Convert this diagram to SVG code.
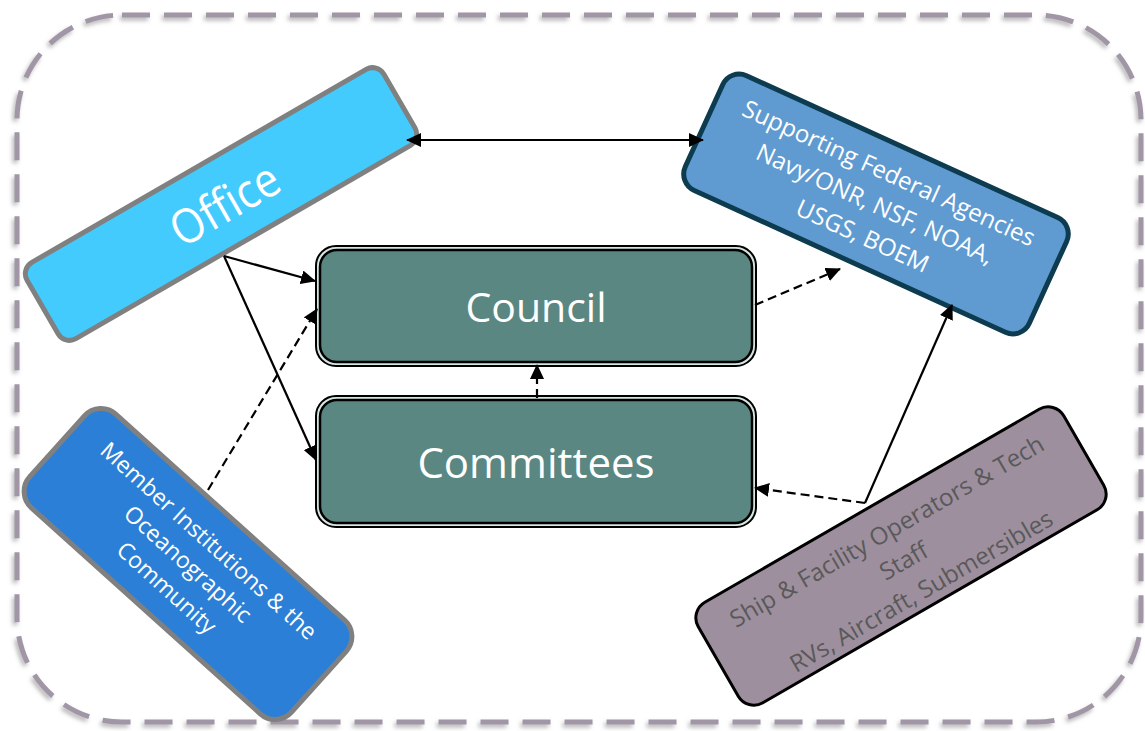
<svg xmlns="http://www.w3.org/2000/svg" width="1145" height="731" viewBox="0 0 1145 731">
<style>
.t{font-family:"Open Sans","Noto Sans","DejaVu Sans",sans-serif;text-anchor:middle}
.w{fill:#ffffff}
.c{stroke:#000;stroke-width:2.2;fill:none}
.d{stroke-dasharray:9 5}
</style>
<defs>
<filter id="sh" x="-5%" y="-5%" width="110%" height="110%">
<feDropShadow dx="-2" dy="3" stdDeviation="2" flood-color="#777" flood-opacity="0.55"/>
</filter>
<marker id="ah" viewBox="0 0 15 14" refX="14" refY="7" markerWidth="15" markerHeight="14" markerUnits="userSpaceOnUse" orient="auto-start-reverse">
<path d="M0,0 L15,7 L0,14 z" fill="#000"/>
</marker>
</defs>
<rect width="1145" height="731" fill="#fff"/>
<rect id="frame" x="17" y="15" width="1124" height="707" rx="105" fill="none" stroke="#a096a6" stroke-width="5" stroke-dasharray="28 14" filter="url(#sh)"/>

<g id="council">
<rect x="316" y="246" width="440" height="120" rx="20" fill="#d5e6e3" stroke="#000" stroke-width="2"/>
<rect x="320" y="250" width="432" height="112" rx="17" fill="#5a8782" stroke="#000" stroke-width="2.5"/>
<text class="t w" x="536" y="322" font-size="41">Council</text>
</g>
<g id="committees">
<rect x="316" y="396" width="440" height="131" rx="20" fill="#d5e6e3" stroke="#000" stroke-width="2"/>
<rect x="320" y="400" width="432" height="123" rx="17" fill="#5a8782" stroke="#000" stroke-width="2.5"/>
<text class="t w" x="536" y="478" font-size="42">Committees</text>
</g>

<g id="office" transform="translate(221,204) rotate(-30)">
<rect x="-206" y="-44" width="412" height="88" rx="13" fill="#44cbfe" stroke="#808080" stroke-width="5"/>
<text class="t w" x="3" y="19" font-size="48" textLength="118" lengthAdjust="spacingAndGlyphs">Office</text>
</g>

<g id="agencies" transform="translate(876,204) rotate(24.5)">
<rect x="-189" y="-63" width="378" height="126" rx="18" fill="#5f9bd1" stroke="#0d3b4f" stroke-width="5"/>
<text class="t w" font-size="24"><tspan x="-1" y="-25">Supporting Federal Agencies</tspan><tspan x="-1" y="9">Navy/ONR, NSF, NOAA,</tspan><tspan x="1" y="43">USGS, BOEM</tspan></text>
</g>

<g id="members" transform="translate(188,564) rotate(42)">
<rect x="-176" y="-63" width="352" height="126" rx="22" fill="#2b7fd6" stroke="#808080" stroke-width="5"/>
<text class="t w" font-size="23"><tspan x="0" y="-23">Member Institutions &amp; the</tspan><tspan x="0" y="8">Oceanographic</tspan><tspan x="0" y="40">Community</tspan></text>
</g>

<g id="operators" transform="translate(901,556) rotate(-30)">
<rect x="-211" y="-58" width="422" height="116" rx="18" fill="#9e8f9e" stroke="#000" stroke-width="3"/>
<text class="t" fill="#595959" font-size="24"><tspan x="0" y="-20">Ship &amp; Facility Operators &amp; Tech</tspan><tspan x="0" y="14">Staff</tspan><tspan x="0" y="49">RVs, Aircraft, Submersibles</tspan></text>
</g>

<g id="connectors">
<line class="c" x1="407" y1="140" x2="703" y2="140" marker-start="url(#ah)" marker-end="url(#ah)"/>
<line class="c" x1="224" y1="256" x2="315" y2="281" marker-end="url(#ah)"/>
<line class="c" x1="224" y1="256" x2="316" y2="460" marker-end="url(#ah)"/>
<line class="c d" x1="208" y1="490" x2="317" y2="309" marker-end="url(#ah)"/>
<line class="c d" x1="755" y1="305" x2="840" y2="269" marker-end="url(#ah)"/>
<line class="c d" x1="537" y1="398" x2="537" y2="365" marker-end="url(#ah)"/>
<line class="c" x1="865" y1="503" x2="952" y2="305" marker-end="url(#ah)"/>
<line class="c d" x1="865" y1="503" x2="755" y2="488" marker-end="url(#ah)"/>
</g>
</svg>
